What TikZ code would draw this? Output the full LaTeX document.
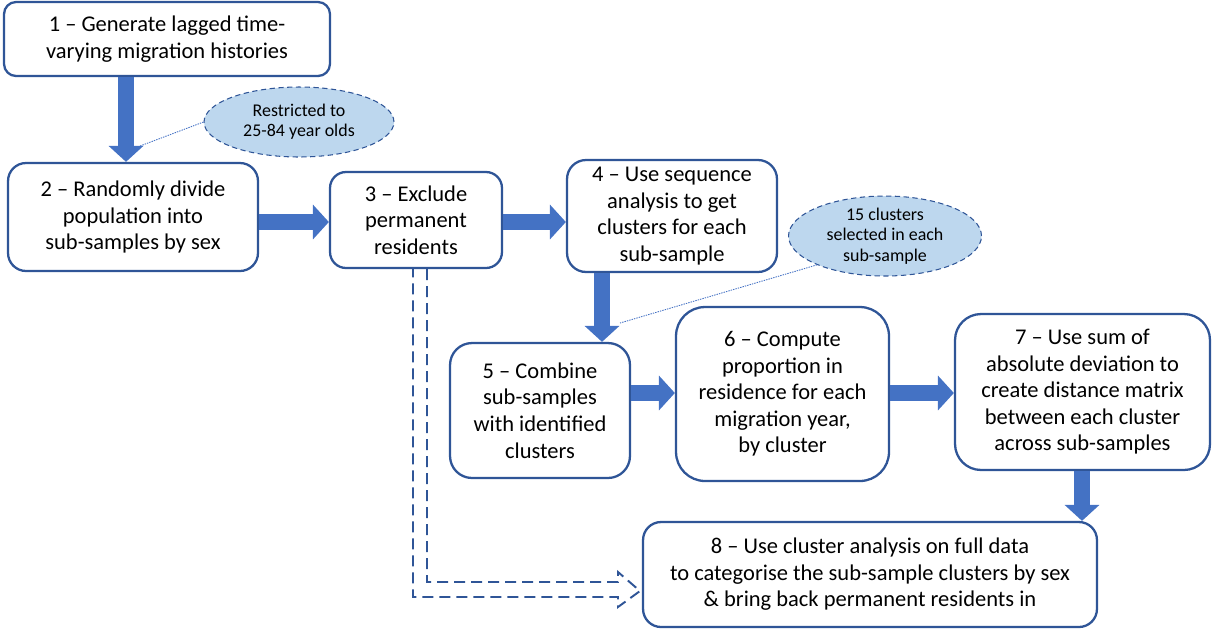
\documentclass[tikz,border=0pt]{standalone}
\usepackage{fontspec}
\setmainfont{Carlito}
\usetikzlibrary{arrows.meta,calc,shapes.geometric}
\definecolor{Navy}{HTML}{2F5597}
\definecolor{Blue}{HTML}{4472C4}
\definecolor{Pale}{HTML}{BDD7EE}

\begin{document}
\begin{tikzpicture}[x=.02cm,y=-.02cm,
    stage/.style={draw=Navy,line width=1.3pt,fill=white,rounded corners=#1,align=center,
      font=\fontsize{12.8}{15.1}\selectfont,inner sep=0pt},
    stage/.default=.35cm,
    note/.style={ellipse,draw=Navy,densely dashed,line width=.6pt,fill=Pale,align=center,
      font=\fontsize{10.2}{11.6}\selectfont,inner sep=0pt},
    flow/.style={Blue,line width=.32cm,-{Triangle[length=.32cm,width=.68cm]}},
    callout/.style={Blue,line width=.5pt,dash pattern=on .8pt off .6pt},
    back/.style={Navy,line width=1.1pt,dash pattern=on .22cm off .12cm}]
  \useasboundingbox (0,0) rectangle (1212,630);
  \node[stage=.24cm,minimum width=6.52cm,minimum height=1.48cm] (s1) at (167,39)
    {1 – Generate lagged time-\\varying migration histories};
  \node[stage=.36cm,minimum width=5cm,minimum height=2.16cm] (s2) at (133,217)
    {2 – Randomly divide\\population into\\sub-samples by sex};
  \node[stage=.32cm,minimum width=3.44cm,minimum height=1.92cm] (s3) at (416,220)
    {3 – Exclude\\permanent\\residents};
  \node[stage=.38cm,minimum width=4.2cm,minimum height=2.24cm] (s4) at (672,216)
    {4 – Use sequence\\analysis to get\\clusters for each\\sub-sample};
  \node[stage=.44cm,minimum width=3.6cm,minimum height=2.7cm] (s5) at (540,410.5)
    {5 – Combine\\sub-samples\\with identified\\clusters};
  \node[stage=.58cm,minimum width=4.26cm,minimum height=3.48cm] (s6) at (782.5,394)
    {6 – Compute\\proportion in\\residence for each\\migration year,\\by cluster};
  \node[stage=.52cm,minimum width=5.1cm,minimum height=3.12cm] (s7) at (1082.5,392)
    {7 – Use sum of\\absolute deviation to\\create distance matrix\\between each cluster\\across sub-samples};
  \node[stage=.36cm,minimum width=9.08cm,minimum height=2.1cm] (s8) at (870,574.5)
    {8 – Use cluster analysis on full data\\to categorise the sub-sample clusters by sex\\\& bring back permanent residents in};

  \node[note,minimum width=3.8cm,minimum height=1.4cm] (n1) at (299,122)
    {Restricted to\\25-84 year olds};
  \node[note,minimum width=3.86cm,minimum height=1.6cm] (n2) at (885,236)
    {15 clusters\\selected in each\\sub-sample};

  \draw[flow] (s1.south -| 126,0) -- (s2.north -| 126,0);
  \draw[flow] (s2.east |- 0,222) -- (s3.west |- 0,222);
  \draw[flow] (s3.east |- 0,222) -- (s4.west |- 0,222);
  \draw[flow] (s4.south -| 602,0) -- (s5.north -| 602,0);
  \draw[flow] (s5.east |- 0,393) -- (s6.west |- 0,393);
  \draw[flow] (s6.east |- 0,393) -- (s7.west |- 0,393);
  \draw[flow] (s7.south -| 1082,0) -- (s8.north -| 1082,0);

  \coordinate (c1) at (140,146);
  \coordinate (c2) at (620,323);
  \draw[callout] (n1.west) -- (c1);
  \draw[callout] (n2.203) -- (c2);

  \draw[back] (s3.south -| 427,0) |- (618,582) -- (618,572) -- (640,591)
    -- (618,607) -- (618,597) -| (s3.south -| 413,0);
\end{tikzpicture}
\end{document}
